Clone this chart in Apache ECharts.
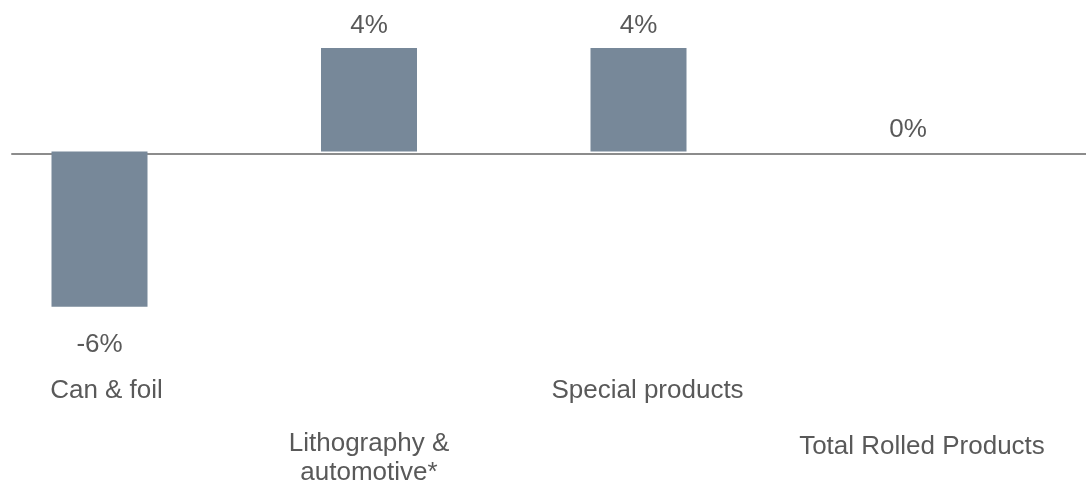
<!DOCTYPE html>
<html>
<head>
<meta charset="utf-8">
<script src="https://cdn.jsdelivr.net/npm/echarts@6/dist/echarts.min.js"></script>
<style>
html,body{margin:0;padding:0;background:#fff;}
#chart{width:1086px;height:486px;}
</style>
</head>
<body>
<div id="chart"></div>
<script>
const categories = ['Can & foil', 'Lithography &\nautomotive*', 'Special products', 'Total Rolled Products'];
const values = [-6, 4, 4, 0];

const FONT = '"Liberation Sans", Arial, sans-serif';
const TEXT = '#595959';
const BAR = '#778899';

const chart = echarts.init(document.getElementById('chart'), null, {renderer: 'canvas'});

const seriesData = values.map(v => ({
  value: v,
  label: v < 0 ? {position: 'bottom', distance: 25} : {position: 'top', distance: 9}
}));

chart.setOption({
  animation: false,
  backgroundColor: '#ffffff',
  grid: [
    {left: 99.5, right: 178, top: 22, height: 342},
    {left: 12, right: 0, top: 22, height: 342}
  ],
  xAxis: [
    {
      type: 'category',
      gridIndex: 0,
      data: categories,
      boundaryGap: false,
      position: 'bottom',
      axisLine: {show: false, onZero: false},
      axisTick: {show: false},
      splitLine: {show: false},
      axisLabel: {
        interval: 0,
        margin: 17,
        color: TEXT,
        fontFamily: FONT,
        fontSize: 26,
        formatter: function (v, i) {
          const lines = v.split('\n');
          const style = ['a', 'b', 'c', 'd'][i];
          let s = lines.map(l => '{' + style + '|' + l + '}').join('\n');
          if (i === 1) s = '{g1| }\n' + s;
          if (i === 3) s = '{g3| }\n' + s;
          return s;
        },
        rich: {
          a: {fontSize: 26, fontFamily: FONT, color: TEXT, lineHeight: 30, padding: [0, 0, 0, 14]},
          b: {fontSize: 26, fontFamily: FONT, color: TEXT, lineHeight: 29},
          c: {fontSize: 26, fontFamily: FONT, color: TEXT, lineHeight: 30, padding: [0, 0, 0, 18]},
          d: {fontSize: 26, fontFamily: FONT, color: TEXT, lineHeight: 29, padding: [0, 0, 0, 28]},
          g1: {fontSize: 10, lineHeight: 54},
          g3: {fontSize: 10, lineHeight: 57}
        }
      }
    },
    {
      type: 'value',
      gridIndex: 1,
      min: 0,
      max: 1,
      axisLine: {show: true, onZero: true, lineStyle: {color: '#8c8c8c', width: 2}},
      axisTick: {show: false},
      axisLabel: {show: false},
      splitLine: {show: false}
    }
  ],
  yAxis: [
    {type: 'value', gridIndex: 0, min: -8, max: 5, show: false, splitLine: {show: false}},
    {type: 'value', gridIndex: 1, min: -8, max: 5, show: false, splitLine: {show: false}}
  ],
  series: [
    {
      type: 'bar',
      xAxisIndex: 0,
      yAxisIndex: 0,
      data: seriesData,
      barWidth: 96,
      itemStyle: {color: BAR},
      label: {
        show: true,
        color: TEXT,
        fontFamily: FONT,
        fontSize: 26,
        formatter: p => p.value + '%'
      }
    }
  ]
});
</script>
</body>
</html>
